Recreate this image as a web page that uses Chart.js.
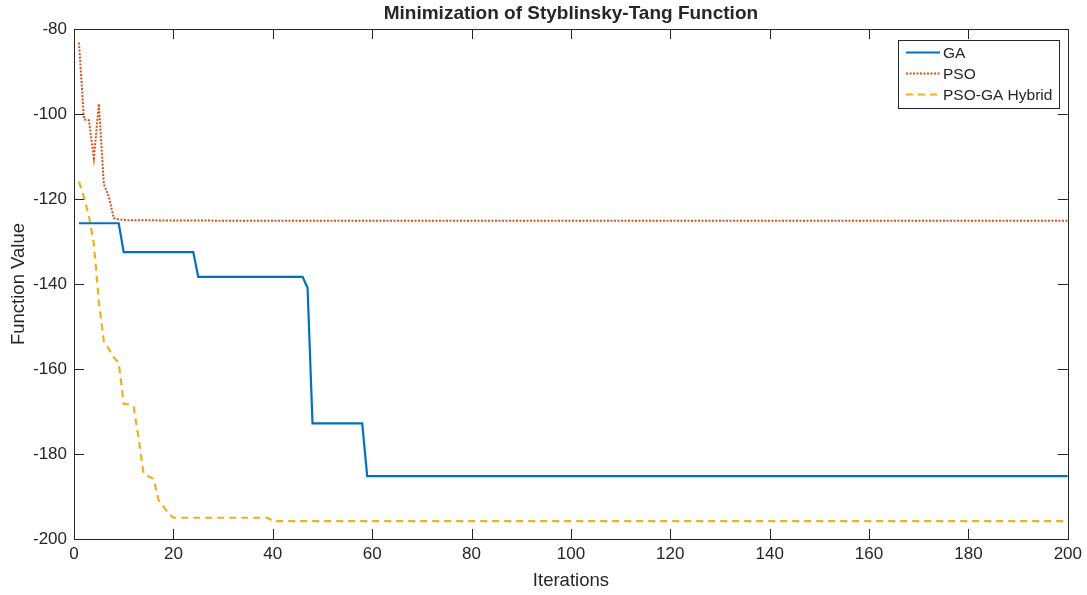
<!DOCTYPE html>
<html>
<head>
<meta charset="utf-8">
<script src="https://cdn.jsdelivr.net/npm/chart.js@4.4.1/dist/chart.umd.min.js"></script>
<style>
  html, body { margin: 0; padding: 0; background: #fff; }
  #wrap { width: 1087px; height: 595px; }
</style>
</head>
<body>
<div id="wrap"><canvas id="chart"></canvas></div>
<script>
// values (only the points where the curves change)
const gaIter = [1, 9, 10, 24, 25, 46, 47, 48, 58, 59, 200];
const gaValue = [-125.7, -125.7, -132.5, -132.5, -138.3, -138.3, -140.9, -172.8, -172.8, -185.2, -185.2];

const psoIter = [1, 2, 3, 4, 5, 6, 7, 8, 9, 10, 11, 30, 200];
const psoValue = [-83.2, -101.2, -101.5, -110.4, -97.6, -116.5, -119.4, -124.5, -124.8, -124.9, -125.0, -125.1, -125.1];

const hybridIter = [1, 2, 3, 4, 5, 6, 7, 8, 9, 10, 11, 12, 13, 14, 15, 16, 17, 18, 19, 20, 39, 40, 200];
const hybridValue = [-115.9, -119.6, -124.0, -130.6, -144.2, -153.5, -155.3, -157.3, -158.5, -168.2, -168.3, -168.9,
  -176.3, -184.6, -185.3, -185.8, -190.8, -192.4, -193.9, -195.0, -195.0, -195.8, -195.8];

const seriesNames = ['GA', 'PSO', 'PSO-GA Hybrid'];
const xTicks = [0, 20, 40, 60, 80, 100, 120, 140, 160, 180, 200];
const yTicks = [-200, -180, -160, -140, -120, -100, -80];

const AXIS = '#262626';
const FONT = 'Arial, "Liberation Sans", sans-serif';

const toPoints = (xs, ys) => xs.map((v, i) => ({ x: v, y: ys[i] }));

// MATLAB-like box, inward ticks, title and legend
const matlabFrame = {
  id: 'matlabFrame',
  afterDatasetsDraw(chart) {
    const { ctx, chartArea: a, scales: { x, y } } = chart;
    ctx.save();
    ctx.strokeStyle = AXIS;
    ctx.lineWidth = 1;
    ctx.beginPath();
    xTicks.forEach(v => {
      const px = Math.round(x.getPixelForValue(v)) + 0.5;
      ctx.moveTo(px, a.bottom); ctx.lineTo(px, a.bottom - 10);
      ctx.moveTo(px, a.top); ctx.lineTo(px, a.top + 10);
    });
    yTicks.forEach(v => {
      const py = Math.round(y.getPixelForValue(v)) + 0.5;
      ctx.moveTo(a.left, py); ctx.lineTo(a.left + 10, py);
      ctx.moveTo(a.right, py); ctx.lineTo(a.right - 10, py);
    });
    ctx.stroke();
    ctx.strokeRect(Math.round(a.left) + 0.5, Math.round(a.top) + 0.5,
      Math.round(a.right - a.left), Math.round(a.bottom - a.top));

    // title
    ctx.fillStyle = AXIS;
    ctx.font = 'bold 19px ' + FONT;
    ctx.textAlign = 'center';
    ctx.textBaseline = 'middle';
    ctx.fillText('Minimization of Styblinsky-Tang Function', (a.left + a.right) / 2, 14);

    // legend
    const lx = 898.5, ly = 40.5, lw = 161, lh = 68;
    ctx.fillStyle = '#fff';
    ctx.fillRect(lx, ly, lw, lh);
    ctx.strokeStyle = AXIS;
    ctx.strokeRect(lx, ly, lw, lh);
    ctx.font = '15.5px ' + FONT;
    ctx.textAlign = 'left';
    chart.data.datasets.forEach((ds, i) => {
      const yy = 52.5 + i * 21;
      ctx.save();
      ctx.strokeStyle = ds.borderColor;
      ctx.lineWidth = ds.borderWidth;
      ctx.setLineDash(ds.borderDash || []);
      ctx.beginPath();
      ctx.moveTo(906, yy); ctx.lineTo(940, yy);
      ctx.stroke();
      ctx.restore();
      ctx.fillStyle = AXIS;
      ctx.fillText(ds.label, 943, yy + 1);
    });
    ctx.restore();
  }
};

new Chart(document.getElementById('chart'), {
  type: 'line',
  data: {
    datasets: [
      {
        label: seriesNames[0],
        data: toPoints(gaIter, gaValue),
        borderColor: '#0072BD',
        borderWidth: 2.2,
        pointRadius: 0
      },
      {
        label: seriesNames[1],
        data: toPoints(psoIter, psoValue),
        borderColor: '#D95319',
        borderWidth: 2,
        borderDash: [2, 1.5],
        pointRadius: 0
      },
      {
        label: seriesNames[2],
        data: toPoints(hybridIter, hybridValue),
        borderColor: '#EDB120',
        borderWidth: 2.2,
        borderDash: [7, 5],
        pointRadius: 0
      }
    ]
  },
  options: {
    responsive: true,
    maintainAspectRatio: false,
    animation: false,
    layout: { padding: { top: 29, right: 18, left: 0, bottom: 0 } },
    plugins: {
      legend: { display: false },
      title: { display: false },
      tooltip: { enabled: false }
    },
    elements: { line: { tension: 0 } },
    scales: {
      x: {
        type: 'linear',
        min: 0,
        max: 200,
        afterBuildTicks: scale => { scale.ticks = xTicks.map(v => ({ value: v })); },
        afterFit: scale => { scale.height = 56; },
        grid: { display: false, drawTicks: false },
        border: { display: false },
        ticks: { color: AXIS, font: { size: 17, family: FONT }, padding: 5, maxRotation: 0 },
        title: { display: true, text: 'Iterations', color: AXIS, font: { size: 18.5, family: FONT }, padding: { top: 0, bottom: 3 } }
      },
      y: {
        type: 'linear',
        min: -200,
        max: -80,
        afterBuildTicks: scale => { scale.ticks = yTicks.map(v => ({ value: v })); },
        afterFit: scale => { scale.width = 74; },
        grid: { display: false, drawTicks: false },
        border: { display: false },
        ticks: { color: AXIS, font: { size: 17, family: FONT }, padding: 7 },
        title: { display: true, text: 'Function Value', color: AXIS, font: { size: 18.5, family: FONT }, padding: { top: 8, bottom: 0 } }
      }
    }
  },
  plugins: [matlabFrame]
});
</script>
</body>
</html>
